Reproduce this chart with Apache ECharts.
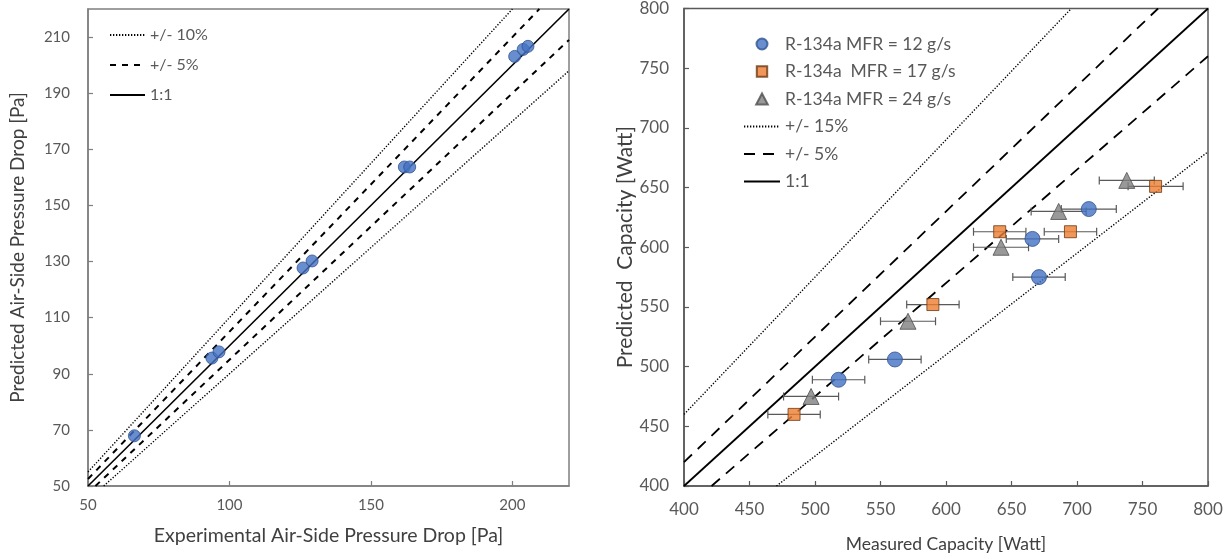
<!DOCTYPE html>
<html>
<head>
<meta charset="utf-8">
<script src="https://cdn.jsdelivr.net/npm/echarts@6/dist/echarts.min.js"></script>
<style>
  html, body { margin: 0; padding: 0; background: #fff; }
  #chart { width: 1231px; height: 559px; }
</style>
</head>
<body>
<div id="chart"></div>
<script>
// ---- Air-side pressure drop [Pa] ----
const dpExperimental = [66.4, 93.8, 96.3, 126.0, 129.2, 161.8, 163.7, 200.8, 203.8, 205.5];
const dpPredicted    = [67.9, 95.6, 97.8, 127.7, 130.2, 163.7, 163.7, 203.1, 205.6, 206.7];
const dpBands = [0.10, 0.05];
const dpRange = [50, 220];

// ---- Capacity [Watt] ----
const mfr12Measured  = [518, 561, 666, 671, 709];
const mfr12Predicted = [489, 506, 607, 575, 632];
const mfr12Error     = [20, 20, 20, 20, 21];
const mfr17Measured  = [484, 590, 641, 695, 760];
const mfr17Predicted = [460, 552, 613, 613, 651];
const mfr17Error     = [20, 20, 20, 20, 21];
const mfr24Measured  = [497, 571, 642, 686, 738];
const mfr24Predicted = [475, 538, 600, 630, 656];
const mfr24Error     = [21, 21, 21, 21, 21];
const capBands = [0.15, 0.05];
const capRange = [400, 800];

const seriesNames = ['R-134a MFR = 12 g/s', 'R-134a  MFR = 17 g/s', 'R-134a MFR = 24 g/s'];

const FONT = 'Lato, "Liberation Sans", sans-serif';
const TEXT = '#595959';

// Legend marker icons drawn inside a 36x12 box (the bare moves pin the box corners)
const ICON_BOX = 'M0,0M36,12';
const legendIcons = {
  circle: 'path://' + ICON_BOX + 'M23.5,6A5.5,5.5,0,1,1,12.5,6A5.5,5.5,0,1,1,23.5,6Z',
  rect: 'path://' + ICON_BOX + 'M12.8,0.8L23.2,0.8L23.2,11.2L12.8,11.2Z',
  triangle: 'path://' + ICON_BOX + 'M18,0.5L23.8,11.5L12.2,11.5Z'
};

// y = k * x segment clipped to the square axis range
function ratioLine(k, range) {
  const x0 = Math.max(range[0], range[0] / k);
  const x1 = Math.min(range[1], range[1] / k);
  return [[x0, k * x0], [x1, k * x1]];
}

function bandLabel(b) { return '+/- ' + Math.round(b * 100) + '%'; }

function lineSeries(name, data, idx, lineStyle) {
  return {
    name, type: 'line', data, xAxisIndex: idx, yAxisIndex: idx,
    symbol: 'none', silent: true, animation: false, z: 2,
    // transparent item colour keeps the legend icon a bare line
    itemStyle: { color: 'rgba(0,0,0,0)', borderWidth: 0 },
    lineStyle: Object.assign({ color: '#000' }, lineStyle)
  };
}

function renderErrorBar(params, api) {
  const x = api.value(0), y = api.value(1), e = api.value(2);
  const lo = api.coord([x - e, y]);
  const hi = api.coord([x + e, y]);
  const cap = 4;
  const style = { stroke: '#595959', lineWidth: 1.2 };
  return {
    type: 'group',
    children: [
      { type: 'line', shape: { x1: lo[0], y1: lo[1], x2: hi[0], y2: hi[1] }, style },
      { type: 'line', shape: { x1: lo[0], y1: lo[1] - cap, x2: lo[0], y2: lo[1] + cap }, style },
      { type: 'line', shape: { x1: hi[0], y1: hi[1] - cap, x2: hi[0], y2: hi[1] + cap }, style }
    ]
  };
}

const dpStyles = [
  { type: [1.3, 1.7], width: 1.4 },
  { type: [6, 6], width: 2 }
];
const capStyles = [
  { type: [1.3, 1.7], width: 1.4 },
  { type: [11, 8], width: 1.8 }
];

const series = [];

// left panel reference lines
dpBands.forEach((b, i) => {
  const name = bandLabel(b);
  series.push(lineSeries(name, ratioLine(1 + b, dpRange), 0, dpStyles[i]));
  series.push(lineSeries(name, ratioLine(1 - b, dpRange), 0, dpStyles[i]));
});
series.push(lineSeries('1:1', ratioLine(1, dpRange), 0, { type: 'solid', width: 1.6 }));
series.push({
  name: 'Pressure drop', type: 'scatter', xAxisIndex: 0, yAxisIndex: 0, z: 5,
  data: dpExperimental.map((x, i) => [x, dpPredicted[i]]),
  symbol: 'circle', symbolSize: 12,
  itemStyle: { color: '#4472C4', borderColor: '#2F528F', borderWidth: 1 }
});

// right panel reference lines (trailing space keeps names distinct from the left panel)
capBands.forEach((b, i) => {
  const name = bandLabel(b) + ' ';
  series.push(lineSeries(name, ratioLine(1 + b, capRange), 1, capStyles[i]));
  series.push(lineSeries(name, ratioLine(1 - b, capRange), 1, capStyles[i]));
});
series.push(lineSeries('1:1 ', ratioLine(1, capRange), 1, { type: 'solid', width: 1.8 }));

const capGroups = [
  { name: seriesNames[0], x: mfr12Measured, y: mfr12Predicted, e: mfr12Error,
    symbol: 'circle', size: 15, color: '#4472C4', border: '#2F528F' },
  { name: seriesNames[1], x: mfr17Measured, y: mfr17Predicted, e: mfr17Error,
    symbol: 'rect', size: 12, color: '#ED7D31', border: '#6b3a12' },
  { name: seriesNames[2], x: mfr24Measured, y: mfr24Predicted, e: mfr24Error,
    symbol: 'triangle', size: 16, color: '#7F7F7F', border: '#4d4d4d' }
];

capGroups.forEach(g => {
  series.push({
    name: g.name + ' error', type: 'custom', xAxisIndex: 1, yAxisIndex: 1, z: 3,
    silent: true, animation: false,
    renderItem: renderErrorBar,
    data: g.x.map((x, i) => [x, g.y[i], g.e[i]])
  });
});
capGroups.forEach(g => {
  series.push({
    name: g.name, type: 'scatter', xAxisIndex: 1, yAxisIndex: 1, z: 5,
    data: g.x.map((x, i) => [x, g.y[i]]),
    symbol: g.symbol, symbolSize: g.size,
    itemStyle: { color: g.color, borderColor: g.border, borderWidth: 1 }
  });
});

function axis(opts) {
  return Object.assign({
    type: 'value',
    nameLocation: 'middle',
    splitLine: { show: false },
    axisTick: { show: true, inside: true, length: 5, lineStyle: { color: opts.frame, width: 1.2 } },
    axisLine: { show: true, onZero: false, lineStyle: { color: opts.frame, width: 1.5 } },
    axisLabel: { color: TEXT, fontFamily: FONT, fontSize: opts.fs, showMaxLabel: opts.showMax, margin: opts.margin },
    nameTextStyle: { color: '#404040', fontFamily: FONT, fontSize: opts.nfs }
  }, opts.base);
}

const option = {
  backgroundColor: '#fff',
  animation: false,
  textStyle: { fontFamily: FONT },
  grid: [
    { left: 88, top: 9, width: 481, height: 477, show: true, borderColor: '#7f7f7f', borderWidth: 1.5 },
    { left: 684, top: 8, width: 524, height: 478, show: true, borderColor: '#595959', borderWidth: 1.5 }
  ],
  xAxis: [
    axis({ frame: '#7f7f7f', fs: 15, nfs: 19.5, showMax: false, margin: 12,
      base: { gridIndex: 0, min: dpRange[0], max: dpRange[1], interval: 50,
              name: 'Experimental Air-Side Pressure Drop [Pa]', nameGap: 40 } }),
    axis({ frame: '#595959', fs: 17, nfs: 17.5, showMax: true, margin: 15,
      base: { gridIndex: 1, min: capRange[0], max: capRange[1], interval: 50,
              name: 'Measured Capacity [Watt]', nameGap: 49 } })
  ],
  yAxis: [
    axis({ frame: '#7f7f7f', fs: 15, nfs: 19, showMax: false, margin: 18,
      base: { gridIndex: 0, min: dpRange[0], max: dpRange[1], interval: 20,
              name: 'Predicted Air-Side Pressure Drop [Pa]', nameGap: 61 } }),
    axis({ frame: '#595959', fs: 17, nfs: 21, showMax: true, margin: 15,
      base: { gridIndex: 1, min: capRange[0], max: capRange[1], interval: 50,
              name: 'Predicted  Capacity [Watt]', nameGap: 48 } })
  ],
  legend: [
    {
      data: dpBands.map(bandLabel).concat(['1:1']),
      orient: 'vertical', left: 104, top: 22,
      itemWidth: 35, itemHeight: 14, itemGap: 14,
      selectedMode: false,
      textStyle: { color: TEXT, fontSize: 16, fontFamily: FONT }
    },
    {
      data: capGroups.map(g => ({ name: g.name, icon: legendIcons[g.symbol] }))
        .concat(capBands.map(b => bandLabel(b) + ' '), ['1:1 ']),
      formatter: n => n.replace(/ $/, ''),
      orient: 'vertical', left: 738, top: 30,
      itemWidth: 36, itemHeight: 12, itemGap: 9.5,
      selectedMode: false,
      textStyle: { color: TEXT, fontSize: 17.5, fontFamily: FONT }
    }
  ],
  series
};

const chart = echarts.init(document.getElementById('chart'), null, { renderer: 'canvas' });
chart.setOption(option);
</script>
</body>
</html>
